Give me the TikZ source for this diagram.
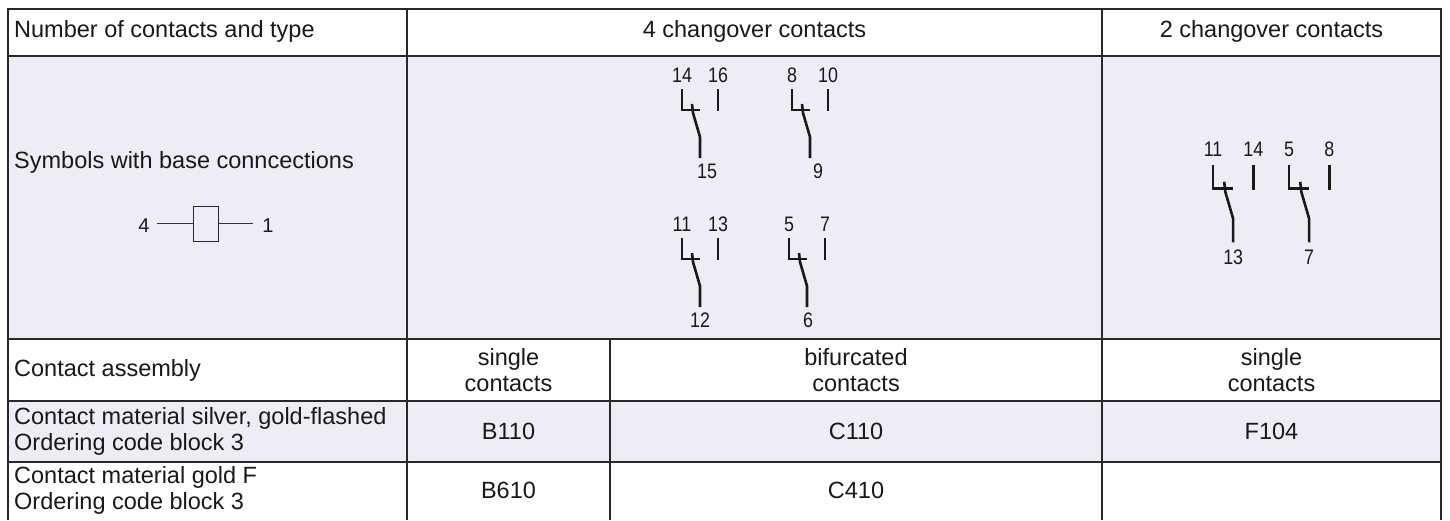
\documentclass[tikz,border=0pt]{standalone}
\usepackage{fontspec}
\setmainfont{Liberation Sans}
\newfontfamily\symfont{Liberation Sans}[FakeStretch=0.85]
\definecolor{lav}{RGB}{237,237,246}
\definecolor{rulec}{RGB}{40,40,40}
\tikzset{
  gridline/.style={draw=rulec,line width=1.4pt},
  cell/.style={font=\fontsize{23.5}{26}\selectfont,inner sep=0pt,align=center,text=black!90},
  lcell/.style={font=\fontsize{23.5}{26}\selectfont,inner sep=0pt,anchor=west,align=left,text=black!90},
  symline/.style={line width=2.6pt,line cap=butt,line join=miter,draw=black!90},
  numlab/.style={font=\symfont\fontsize{21}{21}\selectfont,inner sep=0pt,text=black!90},
  pinlab/.style={font=\fontsize{20}{20}\selectfont,inner sep=0pt,text=black!90},
  pics/relay/.style n args={4}{code={
    \draw[symline] (0,0) -- (0,21) -- (18,21);
    \draw[symline] (36,0) -- (36,22);
    \draw[symline] (10,15) -- (11,24) -- (18,48) -- (18,69);
    \node[numlab] (-a) at (0,-14) {#1};
    \node[numlab] (-b) at (36,-14) {#2};
    \node[numlab] (-c) at (#4,82) {#3};
  }}
}
\begin{document}
\begin{tikzpicture}[x=1pt,y=-1pt]
\useasboundingbox (0,0) rectangle (1450,520);
\fill[white] (0,0) rectangle (1450,520);
\fill[lav] (8,56) rectangle (1441,339);
\fill[lav] (8,401) rectangle (1441,462);
% grid
\draw[gridline] (8,520) -- (8,9) -- (1441,9) -- (1441,520);
\draw[gridline] (8,56) -- (1441,56);
\draw[gridline] (8,339) -- (1441,339);
\draw[gridline] (8,401) -- (1441,401);
\draw[gridline] (8,462) -- (1441,462);
\draw[gridline] (407,9) -- (407,520);
\draw[gridline] (1102,9) -- (1102,520);
\draw[gridline] (610,339) -- (610,520);
% header
\node[lcell] (h0) at (14,31) {Number of contacts and type};
\node[cell] (h1) at (754.5,31) {4 changover contacts};
\node[cell] (h2) at (1271.5,31) {2 changover contacts};
% symbols row
\node[lcell] (s0) at (14,162) {Symbols with base conncections};
\node[draw=rulec,line width=1pt,minimum width=25pt,minimum height=35pt,inner sep=0pt] (coil) at (205.5,223.5) {};
\node[pinlab] (p4) at (144,226) {4};
\node[pinlab] (p1) at (268,226) {1};
\coordinate (c4) at (157,223.5);
\coordinate (c1) at (253,223.5);
\draw[line width=0.8pt,draw=black!80] (c4) -- (coil.west);
\draw[line width=0.8pt,draw=black!80] (coil.east) -- (c1);
\pic (ra) at (682,89) {relay={14}{16}{15}{25}};
\pic (rb) at (792,89) {relay={8}{10}{9}{26}};
\pic (rc) at (682,238) {relay={11}{13}{12}{18}};
\pic (rd) at (789,238) {relay={5}{7}{6}{19}};
\pic[scale=1.12] (re) at (1213,165) {relay={11}{14}{13}{18}};
\pic[scale=1.12] (rf) at (1289,165) {relay={5}{8}{7}{18}};
% assembly row
\node[lcell] (a0) at (14,370) {Contact assembly};
\node[cell] (a1) at (508.5,370) {single\\contacts};
\node[cell] (a2) at (856,370) {bifurcated\\contacts};
\node[cell] (a3) at (1271.5,370) {single\\contacts};
% silver row
\node[lcell] (m0) at (14,431.5) {Contact material silver, gold-flashed\\Ordering code block 3};
\node[cell] (m1) at (508.5,431.5) {B110};
\node[cell] (m2) at (856,431.5) {C110};
\node[cell] (m3) at (1271.5,431.5) {F104};
% gold row
\node[lcell] (g0) at (14,490) {Contact material gold F\\Ordering code block 3};
\node[cell] (g1) at (508.5,490) {B610};
\node[cell] (g2) at (856,490) {C410};
\end{tikzpicture}
\end{document}
